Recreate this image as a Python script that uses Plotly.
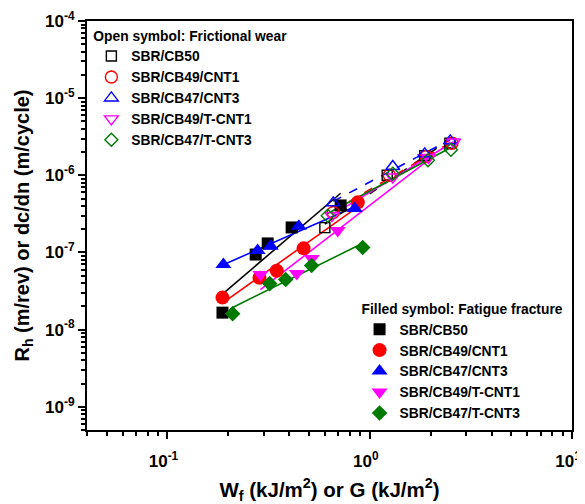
import numpy as np
import plotly.graph_objects as go

# ---------------- data ----------------
series_names = ["SBR/CB50", "SBR/CB49/CNT1", "SBR/CB47/CNT3", "SBR/CB49/T-CNT1", "SBR/CB47/T-CNT3"]
series_colors = ["#000000", "#ff0000", "#0000ff", "#ff00ff", "#007a00"]
symbols = ["square", "circle", "triangle-up", "triangle-down", "diamond"]
filled_sizes = [12, 14, 14, 14, 12]
open_sizes = [10, 12, 12, 12, 10]

# Open symbols: frictional wear  (Wf, Rh)
wear_x_CB50 = [0.60, 1.22, 1.87, 2.49]
wear_y_CB50 = [2.1e-7, 1.0e-6, 1.8e-6, 2.6e-6]
wear_x_CNT1 = [0.66, 1.25, 1.90, 2.55]
wear_y_CNT1 = [3.3e-7, 1.0e-6, 1.75e-6, 2.6e-6]
wear_x_CNT3 = [0.66, 1.30, 1.87, 2.50]
wear_y_CNT3 = [4.4e-7, 1.3e-6, 1.9e-6, 2.8e-6]
wear_x_TCNT1 = [0.65, 1.30, 1.95, 2.60]
wear_y_TCNT1 = [3.0e-7, 9.5e-7, 1.7e-6, 2.7e-6]
wear_x_TCNT3 = [0.62, 1.30, 1.94, 2.52]
wear_y_TCNT3 = [3.0e-7, 1.05e-6, 1.57e-6, 2.15e-6]

# Filled symbols: fatigue fracture  (G, dc/dn)
fat_x_CB50 = [0.187, 0.273, 0.313, 0.411, 0.718]
fat_y_CB50 = [1.66e-8, 9.4e-8, 1.31e-7, 2.11e-7, 4.07e-7]
fat_x_CNT1 = [0.187, 0.285, 0.347, 0.471, 0.873]
fat_y_CNT1 = [2.6e-8, 4.7e-8, 5.8e-8, 1.13e-7, 4.46e-7]
fat_x_CNT3 = [0.189, 0.279, 0.324, 0.446, 0.843]
fat_y_CNT3 = [6.98e-8, 1.06e-7, 1.2e-7, 2.18e-7, 3.72e-7]
fat_x_TCNT1 = [0.288, 0.436, 0.517, 0.695, 1.87]
fat_y_TCNT1 = [5.18e-8, 5.33e-8, 8.36e-8, 1.93e-7, 1.7e-6]
fat_x_TCNT3 = [0.210, 0.320, 0.384, 0.516, 0.923]
fat_y_TCNT3 = [1.61e-8, 3.95e-8, 4.46e-8, 6.78e-8, 1.16e-7]

wear_x = [wear_x_CB50, wear_x_CNT1, wear_x_CNT3, wear_x_TCNT1, wear_x_TCNT3]
wear_y = [wear_y_CB50, wear_y_CNT1, wear_y_CNT3, wear_y_TCNT1, wear_y_TCNT3]
fat_x = [fat_x_CB50, fat_x_CNT1, fat_x_CNT3, fat_x_TCNT1, fat_x_TCNT3]
fat_y = [fat_y_CB50, fat_y_CNT1, fat_y_CNT3, fat_y_TCNT1, fat_y_TCNT3]

wear_dash = ["dash", "dash", "dash", "solid", "solid"]

FONT = "Arial, Liberation Sans, sans-serif"


def fit_line(xs, ys):
    lx, ly = np.log10(xs), np.log10(ys)
    k, b = np.polyfit(lx, ly, 1)
    gx = np.linspace(lx.min(), lx.max(), 30)
    return 10 ** gx, 10 ** (k * gx + b)


fig = go.Figure()

# power-law fit lines (drawn first, below markers)
for i in range(5):
    fx, fy = fit_line(fat_x[i], fat_y[i])
    fig.add_trace(go.Scatter(x=fx, y=fy, mode="lines", showlegend=False, hoverinfo="skip",
                             line=dict(color=series_colors[i], width=1.6)))
for i in range(5):
    fx, fy = fit_line(wear_x[i], wear_y[i])
    fig.add_trace(go.Scatter(x=fx, y=fy, mode="lines", showlegend=False, hoverinfo="skip",
                             line=dict(color=series_colors[i], width=1.6, dash=wear_dash[i])))

# filled symbols
for i in range(5):
    fig.add_trace(go.Scatter(
        x=fat_x[i], y=fat_y[i], mode="markers", name=series_names[i], legend="legend2",
        marker=dict(symbol=symbols[i], size=filled_sizes[i], color=series_colors[i],
                    line=dict(width=0))))

# open symbols
for i in range(5):
    fig.add_trace(go.Scatter(
        x=wear_x[i], y=wear_y[i], mode="markers", name=series_names[i], legend="legend",
        marker=dict(symbol=symbols[i] + "-open", size=open_sizes[i], color=series_colors[i],
                    line=dict(width=1.4, color=series_colors[i]))))

x_major = [0.1, 1, 10]
x_text = ["10<sup>-1</sup>", "10<sup>0</sup>", "10<sup>1</sup>"]
y_major = [1e-9, 1e-8, 1e-7, 1e-6, 1e-5, 1e-4]
y_text = ["10<sup>-9</sup>", "10<sup>-8</sup>", "10<sup>-7</sup>", "10<sup>-6</sup>",
          "10<sup>-5</sup>", "10<sup>-4</sup>"]
x_minor = [k * 10.0 ** e for e in range(-2, 1) for k in range(2, 10)]
y_minor = [k * 10.0 ** e for e in range(-10, -4) for k in range(2, 10)]

axis_common = dict(type="log", showgrid=False, zeroline=False, showline=True, linecolor="black",
                   linewidth=2, mirror=True, ticks="outside", ticklen=7, tickwidth=2,
                   tickcolor="black", tickmode="array", automargin=False,
                   ticklabeloverflow="allow",
                   tickfont=dict(family=FONT, size=17, color="black", weight="bold"))

fig.update_xaxes(**axis_common, range=[np.log10(0.04), 1], tickvals=x_major, ticktext=x_text,
                 ticklabelstandoff=8, ticklabelshift=-4,
                 minor=dict(tickmode="array", tickvals=x_minor, ticks="outside", ticklen=4,
                            tickwidth=1.5, tickcolor="black"),
                 title=dict(text="W<sub>f</sub> (kJ/m<sup>2</sup>) or G (kJ/m<sup>2</sup>)",
                            font=dict(family=FONT, size=20.5, color="black", weight="bold"),
                            standoff=12))
fig.update_yaxes(**axis_common, range=[np.log10(5e-10), -4], tickvals=y_major, ticktext=y_text,
                 minor=dict(tickmode="array", tickvals=y_minor, ticks="outside", ticklen=4,
                            tickwidth=1.5, tickcolor="black"),
                 title=dict(text="R<sub>h</sub> (m/rev) or dc/dn (m/cycle)",
                            font=dict(family=FONT, size=20, color="black", weight="bold"),
                            standoff=10))

legend_font = dict(family=FONT, size=13.8, color="black", weight="bold")
# the page body has an 8px margin, so the figure is sized/offset to compensate
fig.update_layout(
    width=577, height=496,
    margin=dict(l=79, r=13, t=13, b=74, autoexpand=False),
    plot_bgcolor="white", paper_bgcolor="white",
    legend=dict(x=0.009, y=0.996, xanchor="left", yanchor="top", bgcolor="rgba(0,0,0,0)",
                font=legend_font, tracegroupgap=0,
                title=dict(text="Open symbol: Frictional wear", font=legend_font)),
    legend2=dict(x=0.562, y=0.003, xanchor="left", yanchor="bottom", bgcolor="rgba(0,0,0,0)",
                 font=legend_font, tracegroupgap=0,
                 title=dict(text="Filled symbol: Fatigue fracture", font=legend_font)),
)

fig.write_html("out.html")
